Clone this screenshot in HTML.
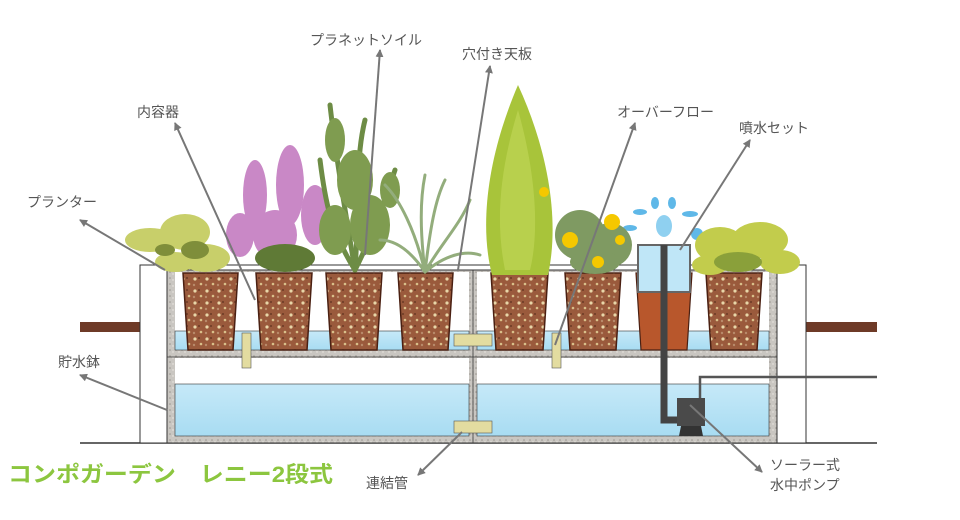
<!DOCTYPE html>
<html><head><meta charset="utf-8"><style>
body{margin:0;background:#fff;}
svg{display:block}
text{font-family:"Liberation Sans","Noto Sans CJK JP",sans-serif;}
</style></head><body>
<svg width="960" height="520" viewBox="0 0 960 520" xmlns="http://www.w3.org/2000/svg">
<defs>
<marker id="ah" markerWidth="8" markerHeight="8" refX="7" refY="4" orient="auto" markerUnits="userSpaceOnUse"><path d="M0,0 L8,4 L0,8 z" fill="#777"/></marker>
<pattern id="soil" width="12" height="12" patternUnits="userSpaceOnUse"><rect width="12" height="12" fill="#9a5a3c"/><circle cx="3" cy="3" r="1.6" fill="#e8d6a8"/><circle cx="9" cy="8" r="1.3" fill="#d9c08a"/><circle cx="7" cy="2" r="1" fill="#6b3a25"/><circle cx="2" cy="9" r="1.2" fill="#b88a6a"/></pattern>
<pattern id="con" width="6" height="6" patternUnits="userSpaceOnUse"><rect width="6" height="6" fill="#c9c6c1"/><circle cx="2" cy="2" r="0.8" fill="#9a9690"/><circle cx="5" cy="4" r="0.7" fill="#eeeae4"/></pattern>
<linearGradient id="wat" x1="0" y1="0" x2="0" y2="1"><stop offset="0" stop-color="#c6e9f8"/><stop offset="1" stop-color="#a8dcf2"/></linearGradient>
</defs>
<line x1="80" y1="443" x2="877" y2="443" stroke="#333" stroke-width="1.5"/>
<rect x="80" y="322" width="60" height="10" fill="#6e3a27"/>
<rect x="806" y="322" width="71" height="10" fill="#6e3a27"/>
<rect x="140" y="265" width="666" height="178" fill="#fff" stroke="#333" stroke-width="1"/>
<line x1="167" y1="265" x2="167" y2="443" stroke="#333"/>
<line x1="772" y1="265" x2="772" y2="443" stroke="#333"/>
<rect x="167" y="270" width="610" height="173" fill="url(#con)" stroke="#333"/>
<rect x="175" y="272" width="294" height="78" fill="#fff"/>
<rect x="477" y="272" width="292" height="78" fill="#fff"/>
<rect x="175" y="331" width="294" height="19" fill="url(#wat)" stroke="#333" stroke-width="0.6"/>
<rect x="477" y="331" width="292" height="19" fill="url(#wat)" stroke="#333" stroke-width="0.6"/>
<rect x="175" y="358" width="294" height="78" fill="#fff"/>
<rect x="477" y="358" width="292" height="78" fill="#fff"/>
<rect x="175" y="384" width="294" height="52" fill="url(#wat)" stroke="#333" stroke-width="0.6"/>
<rect x="477" y="384" width="292" height="52" fill="url(#wat)" stroke="#333" stroke-width="0.6"/>
<line x1="167" y1="357" x2="777" y2="357" stroke="#333" stroke-width="0.8"/>
<line x1="473" y1="270" x2="473" y2="443" stroke="#333" stroke-width="0.8"/>
<rect x="242" y="333" width="9" height="35" fill="#e3dca0" stroke="#555" stroke-width="0.6"/>
<rect x="552" y="333" width="9" height="35" fill="#e3dca0" stroke="#555" stroke-width="0.6"/>
<rect x="454" y="334" width="38" height="12" fill="#e3dca0" stroke="#555" stroke-width="0.6"/>
<rect x="454" y="421" width="38" height="12" fill="#e3dca0" stroke="#555" stroke-width="0.6"/>
<g stroke="#4a2012" stroke-width="1.5" fill="url(#soil)">
<path d="M183,273 L238,273 L233,350 L188,350 Z"/>
<path d="M256,273 L312,273 L307,350 L261,350 Z"/>
<path d="M326,273 L382,273 L377,350 L331,350 Z"/>
<path d="M398,273 L453,273 L448,350 L403,350 Z"/>
<path d="M491,273 L548,273 L543,350 L496,350 Z"/>
<path d="M565,273 L621,273 L616,350 L570,350 Z"/>
<path d="M706,273 L762,273 L757,350 L711,350 Z"/>
</g>
<path d="M636,273 L692,273 L687,350 L641,350 Z" fill="#b8572c" stroke="#4a2012" stroke-width="1.2"/>
<rect x="638" y="245" width="52" height="47" fill="#bfe6f7" stroke="#666" stroke-width="2"/>
<path d="M664,245 L664,420 L680,420" fill="none" stroke="#444" stroke-width="7"/>
<rect x="677" y="398" width="28" height="28" fill="#4a4a4a"/>
<path d="M681,426 L701,426 L703,436 L679,436 Z" fill="#333"/>
<path d="M700,398 L700,377 L877,377" fill="none" stroke="#555" stroke-width="2.5"/>
<g fill="#5fb8e8"><ellipse cx="640" cy="212" rx="7" ry="3"/><ellipse cx="655" cy="203" rx="4" ry="6"/><ellipse cx="672" cy="203" rx="4" ry="6"/><ellipse cx="690" cy="214" rx="8" ry="3"/><ellipse cx="630" cy="228" rx="7" ry="3"/><ellipse cx="697" cy="234" rx="6" ry="6"/><ellipse cx="664" cy="226" rx="8" ry="11" fill="#8fd0f0"/></g>
<!-- plants -->
<g>
<g fill="#c8cf6a"><ellipse cx="150" cy="240" rx="25" ry="12"/><ellipse cx="185" cy="232" rx="25" ry="18"/><ellipse cx="205" cy="258" rx="25" ry="14"/><ellipse cx="175" cy="262" rx="20" ry="10"/></g>
<g fill="#7f8e3a"><ellipse cx="195" cy="250" rx="14" ry="9"/><ellipse cx="165" cy="250" rx="10" ry="6"/></g>
<g fill="#c988c6"><ellipse cx="255" cy="195" rx="12" ry="35"/><ellipse cx="290" cy="185" rx="14" ry="40"/><ellipse cx="315" cy="215" rx="14" ry="30"/><ellipse cx="240" cy="235" rx="14" ry="22"/><ellipse cx="275" cy="235" rx="22" ry="25"/></g>
<ellipse cx="285" cy="258" rx="30" ry="14" fill="#5f7a36"/>
<g stroke="#6d8c45" stroke-width="5" stroke-linecap="round" fill="none">
<path d="M355,270 C345,210 335,150 330,105"/><path d="M355,270 C360,200 355,160 365,120"/><path d="M355,270 C330,230 325,200 320,160"/><path d="M355,270 C375,230 385,200 395,170"/>
</g>
<g fill="#7f9c50"><ellipse cx="335" cy="140" rx="10" ry="22"/><ellipse cx="355" cy="180" rx="18" ry="30"/><ellipse cx="370" cy="225" rx="20" ry="30"/><ellipse cx="335" cy="230" rx="16" ry="25"/><ellipse cx="390" cy="190" rx="10" ry="18"/></g>
<g stroke="#93ad7c" stroke-width="3" stroke-linecap="round" fill="none">
<path d="M425,272 C415,230 400,200 385,185"/><path d="M425,272 C430,230 435,200 445,180"/><path d="M425,272 C440,245 460,225 470,200"/><path d="M425,272 C410,250 395,240 380,240"/><path d="M425,272 C445,255 465,250 480,255"/><path d="M425,272 C420,230 420,200 425,175"/>
</g>
<path d="M518,85 C548,150 560,220 548,275 L492,275 C478,220 490,150 518,85 Z" fill="#a8c43a"/>
<path d="M518,110 C535,170 540,230 530,270 L505,270 C495,220 500,170 518,110 Z" fill="#c3d85a" opacity="0.6"/>
<g fill="#7f9a62"><ellipse cx="580" cy="235" rx="25" ry="25"/><ellipse cx="610" cy="245" rx="22" ry="22"/><ellipse cx="595" cy="262" rx="25" ry="12"/></g>
<circle cx="570" cy="240" r="8" fill="#f5c800"/><circle cx="612" cy="222" r="8" fill="#f5c800"/><circle cx="598" cy="262" r="6" fill="#f5c800"/><circle cx="544" cy="192" r="5" fill="#f5c800"/><circle cx="620" cy="240" r="5" fill="#f5c800"/>
<g fill="#c2cc4c"><ellipse cx="720" cy="245" rx="25" ry="18"/><ellipse cx="760" cy="240" rx="28" ry="18"/><ellipse cx="780" cy="262" rx="20" ry="12"/><ellipse cx="710" cy="265" rx="18" ry="10"/></g>
<ellipse cx="738" cy="262" rx="24" ry="10" fill="#8aa03a"/>
</g>
<g stroke="#777" stroke-width="2" fill="none" marker-end="url(#ah)">
<line x1="365" y1="255" x2="380" y2="50"/>
<line x1="458" y1="270" x2="490" y2="66"/>
<line x1="255" y1="300" x2="175" y2="123"/>
<line x1="555" y1="345" x2="635" y2="123"/>
<line x1="680" y1="250" x2="750" y2="140"/>
<line x1="165" y1="270" x2="80" y2="220"/>
<line x1="167" y1="410" x2="80" y2="375"/>
<line x1="462" y1="432" x2="418" y2="475"/>
<line x1="690" y1="405" x2="762" y2="472"/>
</g>
<g font-size="14" fill="#555">
<text x="310" y="45">プラネットソイル</text>
<text x="462" y="59">穴付き天板</text>
<text x="137" y="117">内容器</text>
<text x="617" y="117">オーバーフロー</text>
<text x="739" y="133">噴水セット</text>
<text x="27" y="207">プランター</text>
<text x="58" y="367">貯水鉢</text>
<text x="366" y="488">連結管</text>
<text x="770" y="470">ソーラー式</text>
<text x="770" y="490">水中ポンプ</text>
</g>
<text x="8" y="482" font-size="22" font-weight="bold" fill="#8cc63f" textLength="325" lengthAdjust="spacingAndGlyphs">コンポガーデン　レニー2段式</text>
</svg>
</body></html>
